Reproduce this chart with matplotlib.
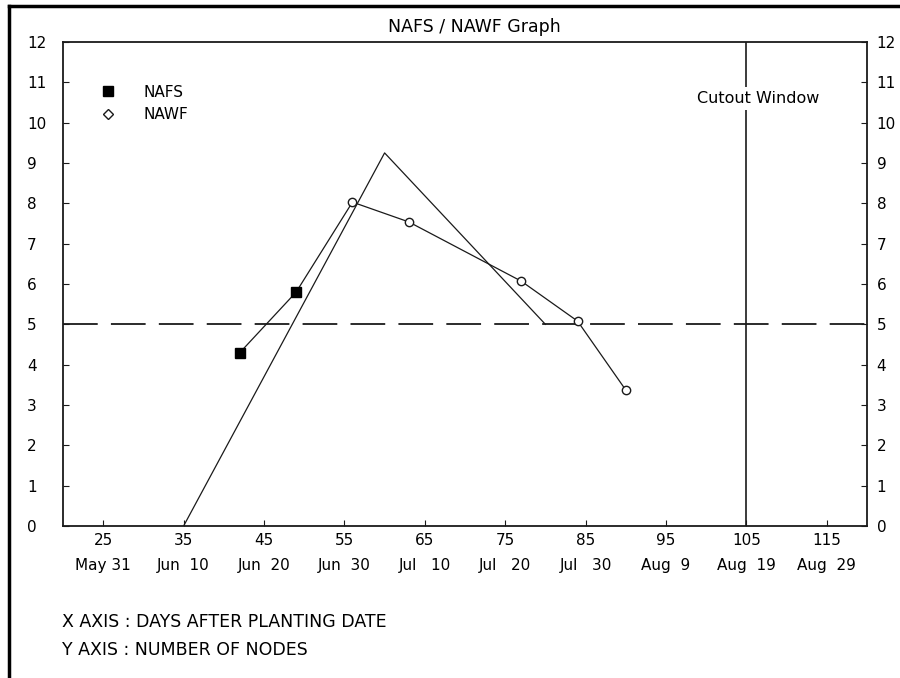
import matplotlib
matplotlib.use("Agg")
import matplotlib.pyplot as plt
import matplotlib.transforms as mtransforms
from matplotlib.lines import Line2D

## data
days = [25, 35, 45, 55, 65, 75, 85, 95, 105, 115]
dates = ["May 31", "Jun  10", "Jun  20", "Jun  30", "Jul   10",
         "Jul   20", "Jul   30", "Aug  9", "Aug  19", "Aug  29"]
nodes = list(range(0, 13))

nafs_x = [42, 49]
nafs_y = [4.3, 5.8]
nawf_x = [56, 63, 77, 84, 90]
nawf_y = [8.03, 7.54, 6.07, 5.08, 3.37]

trend_x = [35, 60, 80]
trend_y = [0, 9.25, 5.0]

threshold = 5
cutout_day = 105

plt.rcParams['font.family'] = ['DejaVu Sans']
plt.rcParams['font.size'] = 11
plt.rcParams['lines.scale_dashes'] = False

fig = plt.figure(figsize=(9, 6.78), dpi=100)
ax = fig.add_axes([63 / 900, 1 - 526 / 678, 804 / 900, 484 / 678])

ink = '#1a1a1a'

## threshold and cutout lines
ax.axhline(threshold, color=ink, lw=1.3, dashes=(25, 9.5))
ax.axvline(cutout_day, color=ink, lw=1.2)
ax.text(cutout_day + 1.5, 10.6, "Cutout Window", ha='center', va='center',
        fontsize=11.5, bbox=dict(facecolor='white', edgecolor='none', pad=3))

## trend line
ax.plot(trend_x, trend_y, color=ink, lw=0.9)

## observed line through both series
all_x = nafs_x + nawf_x
all_y = nafs_y + nawf_y
ax.plot(all_x, all_y, color=ink, lw=0.9)
ax.plot(nafs_x, nafs_y, ls='none', marker='s', ms=7.5, color='black')
ax.plot(nawf_x, nawf_y, ls='none', marker='o', ms=6, mfc='white',
        mec=ink, mew=1.0)

ax.set_xlim(20, 120)
ax.set_ylim(0, 12)
ax.set_xticks(days)
ax.set_xticklabels([f"{d}\n{s}" for d, s in zip(days, dates)], linespacing=1.85)
ax.set_yticks(nodes)
ax.set_yticklabels([str(n) for n in nodes])

ax.tick_params(axis='x', direction='in', length=4, pad=5, color=ink)
ax.tick_params(axis='y', direction='in', length=4, color=ink,
               right=True, labelright=True, pad=26)
for sp in ax.spines.values():
    sp.set_linewidth(1.3)
    sp.set_color(ink)

## left labels sit left-aligned; right labels need a smaller pad
offset = mtransforms.ScaledTranslation(-19 / 72, 0, fig.dpi_scale_trans)
for t in ax.yaxis.get_major_ticks():
    t.label1.set_horizontalalignment('left')
    t.label2.set_transform(t.label2.get_transform() + offset)

handles = [Line2D([], [], ls='none', marker='s', ms=7.5, color='black'),
           Line2D([], [], ls='none', marker='D', ms=5.5, mfc='white', mec=ink)]
ax.legend(handles, ["NAFS", "NAWF"], loc='upper left', frameon=False,
          bbox_to_anchor=(0.02, 0.94), handletextpad=1.3, labelspacing=0.5)

fig.text(474 / 900, 1 - 27 / 678, "NAFS / NAWF Graph", ha='center', va='center',
         fontsize=12.5)
fig.text(62 / 900, 1 - 622 / 678, "X AXIS : DAYS AFTER PLANTING DATE", va='center',
         fontsize=12.5)
fig.text(62 / 900, 1 - 650 / 678, "Y AXIS : NUMBER OF NODES", va='center',
         fontsize=12.5)

## outer frame (top and left edges)
fig.add_artist(Line2D([8.5 / 900, 8.5 / 900], [0, 1 - 5.5 / 678], color='black', lw=2.5))
fig.add_artist(Line2D([8.5 / 900, 1], [1 - 5.5 / 678, 1 - 5.5 / 678], color='black', lw=2.5))

fig.savefig("out.png", dpi=100)
